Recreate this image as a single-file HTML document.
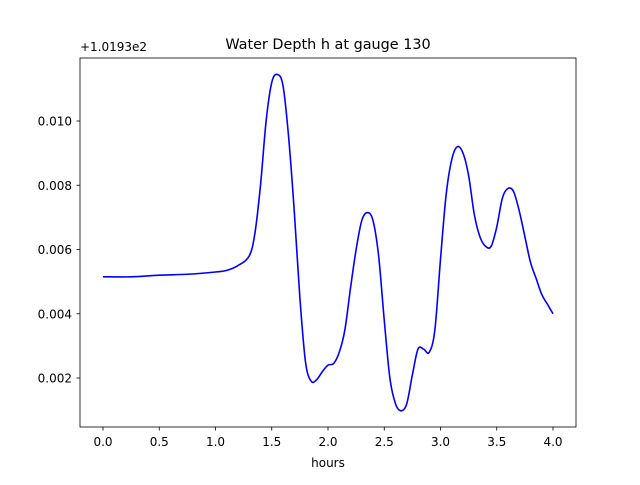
<!DOCTYPE html>
<html><head><meta charset="utf-8"><style>
body{margin:0;background:#fff;font-family:"Liberation Sans","DejaVu Sans",sans-serif}
svg text{font-family:"DejaVu Sans","Liberation Sans",sans-serif}
</style></head><body>
<svg id="chart" width="640" height="480" viewBox="0 0 640 480" xmlns="http://www.w3.org/2000/svg">
<rect width="640" height="480" fill="#fff"/>
<text x="328" y="49" font-size="14.4" text-anchor="middle">Water Depth h at gauge 130</text>
<text x="80" y="51" font-size="12">+1.0193e2</text>
<g id="xticks"></g><g id="yticks"></g>
<path id="series" fill="none" stroke="#0000ff" stroke-width="1.6"/>
<rect x="80" y="58" width="496" height="369" fill="none" stroke="#000" stroke-width="0.8"/>
<text x="328" y="467" font-size="12" text-anchor="middle">hours</text>
</svg>
<script>
const hours=[0,0.25,0.5,0.75,1.0,1.1,1.2,1.3,1.35,1.4,1.45,1.5,1.55,1.6,1.65,1.7,1.75,1.8,1.85,1.9,1.95,2.0,2.05,2.1,2.15,2.2,2.25,2.3,2.35,2.4,2.45,2.5,2.55,2.6,2.65,2.7,2.75,2.8,2.85,2.9,2.95,3.0,3.05,3.1,3.15,3.2,3.25,3.3,3.35,3.4,3.45,3.5,3.55,3.6,3.65,3.7,3.75,3.8,3.85,3.9,3.95,4.0];
const depth=[0.00515,0.00515,0.0052,0.00523,0.0053,0.00535,0.0055,0.0058,0.0065,0.008,0.0100,0.0112,0.01145,0.0111,0.0095,0.0072,0.0045,0.0025,0.0019,0.00195,0.0022,0.0024,0.00245,0.0028,0.0035,0.0048,0.006,0.0069,0.00715,0.0069,0.0058,0.0038,0.0020,0.0012,0.00098,0.0012,0.0021,0.0029,0.0029,0.0028,0.0035,0.0057,0.0077,0.0088,0.0092,0.0090,0.0083,0.0071,0.0064,0.0061,0.0061,0.0067,0.0076,0.0079,0.0078,0.0072,0.0064,0.0056,0.0051,0.0046,0.0043,0.0040];
const xTickLabels=["0.0","0.5","1.0","1.5","2.0","2.5","3.0","3.5","4.0"];
const yTickLabels=["0.002","0.004","0.006","0.008","0.010"];
const NS="http://www.w3.org/2000/svg";
function sx(v){return 103+v*112.5;}
function sy(v){return 378-(v-0.002)*32125;}
const xg=document.getElementById('xticks'),yg=document.getElementById('yticks');
xTickLabels.forEach(l=>{const x=sx(parseFloat(l));
 const t=document.createElementNS(NS,'line');t.setAttribute('x1',x);t.setAttribute('x2',x);t.setAttribute('y1',427);t.setAttribute('y2',430.5);t.setAttribute('stroke','#000');t.setAttribute('stroke-width','0.8');
 
 
 xg.appendChild(t);
 const s=document.createElementNS(NS,'text');s.setAttribute('x',x);s.setAttribute('y',446);s.setAttribute('font-size','12');s.setAttribute('text-anchor','middle');s.textContent=l;
 
 
 xg.appendChild(s);});
yTickLabels.forEach(l=>{const y=sy(parseFloat(l));
 const t=document.createElementNS(NS,'line');t.setAttribute('x1',76.5);t.setAttribute('x2',80);t.setAttribute('y1',y);t.setAttribute('y2',y);t.setAttribute('stroke','#000');t.setAttribute('stroke-width','0.8');
 
 
 yg.appendChild(t);
 const s=document.createElementNS(NS,'text');s.setAttribute('x',72);s.setAttribute('y',y+4.5);s.setAttribute('font-size','12');s.setAttribute('text-anchor','end');s.textContent=l;
 
 
 yg.appendChild(s);});
let p=[hours.map((h,i)=>[sx(h),sy(depth[i])])][0];
let d='M'+p[0][0]+','+p[0][1];
for(let i=0;i<p.length-1;i++){const p0=p[i-1]||p[i],p1=p[i],p2=p[i+1],p3=p[i+2]||p2;
 d+=` C${p1[0]+(p2[0]-p0[0])/6},${p1[1]+(p2[1]-p0[1])/6} ${p2[0]-(p3[0]-p1[0])/6},${p2[1]-(p3[1]-p1[1])/6} ${p2[0]},${p2[1]}`;}
document.getElementById('series').setAttribute('d',d);
</script>
</body></html>
